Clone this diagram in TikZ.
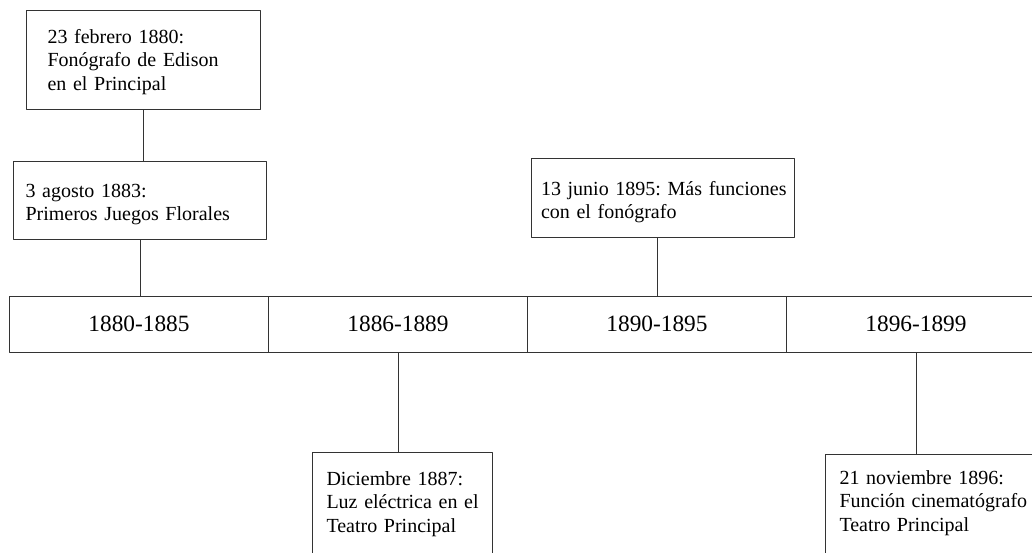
\documentclass[tikz,border=0pt]{standalone}
\usepackage{fontspec}
\setmainfont{Liberation Serif}
\usetikzlibrary{positioning}

\begin{document}
\begin{tikzpicture}[x=0.75pt,y=-0.75pt,line join=round,
  event/.style={draw=black!80,line width=0.75pt,anchor=north west,align=left,inner ysep=0pt,
    font=\fontsize{15pt}{17.5pt}\selectfont,
    execute at begin node={\frenchspacing\hyphenpenalty=10000\rightskip=0pt minus 40pt\relax}},
  period/.style={draw=black!80,line width=0.75pt,minimum width=194.25pt,minimum height=42pt,
    inner sep=0pt,outer sep=0pt,font=\fontsize{17.5pt}{21pt}\selectfont},
  link/.style={draw=black!80,line width=0.75pt}]
\useasboundingbox (0,0) rectangle (1032,553);
\fill[white] (0,0) rectangle (1032,553);
\clip (0,0) rectangle (1032,553);
% periodos
\node[period,anchor=north west] (p1) at (9.5,296) {1880-1885};
\node[period,right=0pt of p1] (p2) {1886-1889};
\node[period,right=0pt of p2] (p3) {1890-1895};
\node[period,right=0pt of p3] (p4) {1896-1899};
% arriba
\node[event,inner xsep=16.125pt,text width=143.25pt,text height=24.75pt,text depth=49.5pt] (feb80) at (25.5,10)
  {23 febrero 1880:\\Fonógrafo de Edison\\en el Principal};
\node[event,inner xsep=9pt,text width=171.75pt,text height=27pt,text depth=31.5pt] (ago83) at (13,161)
  {3 agosto 1883:\\Primeros Juegos Florales};
\node[event,inner xsep=7.5pt,text width=182.625pt,text height=27.75pt,text depth=31.5pt] (jun95) at (530.5,158)
  {13 junio 1895: Más funciones\\con el fonógrafo};
% abajo
\node[event,inner xsep=10.5pt,text width=114pt,text height=24.75pt,text depth=67.5pt] (dic87) at (312,452)
  {Diciembre 1887:\\Luz eléctrica en el\\Teatro Principal};
\node[event,inner xsep=10.5pt,text width=150pt,text height=22.5pt,text depth=67.5pt] (nov96) at (825,454)
  {21 noviembre 1896:\\Función cinematógrafo\\Teatro Principal};
% lineas
\draw[link] (feb80.south) -- (feb80.south |- ago83.north);
\draw[link] (ago83.south) -- (ago83.south |- p1.north);
\draw[link] (p3.north) -- (p3.north |- jun95.south);
\draw[link] (p2.south) -- (p2.south |- dic87.north);
\draw[link] (p4.south) -- (p4.south |- nov96.north);
\end{tikzpicture}
\end{document}
